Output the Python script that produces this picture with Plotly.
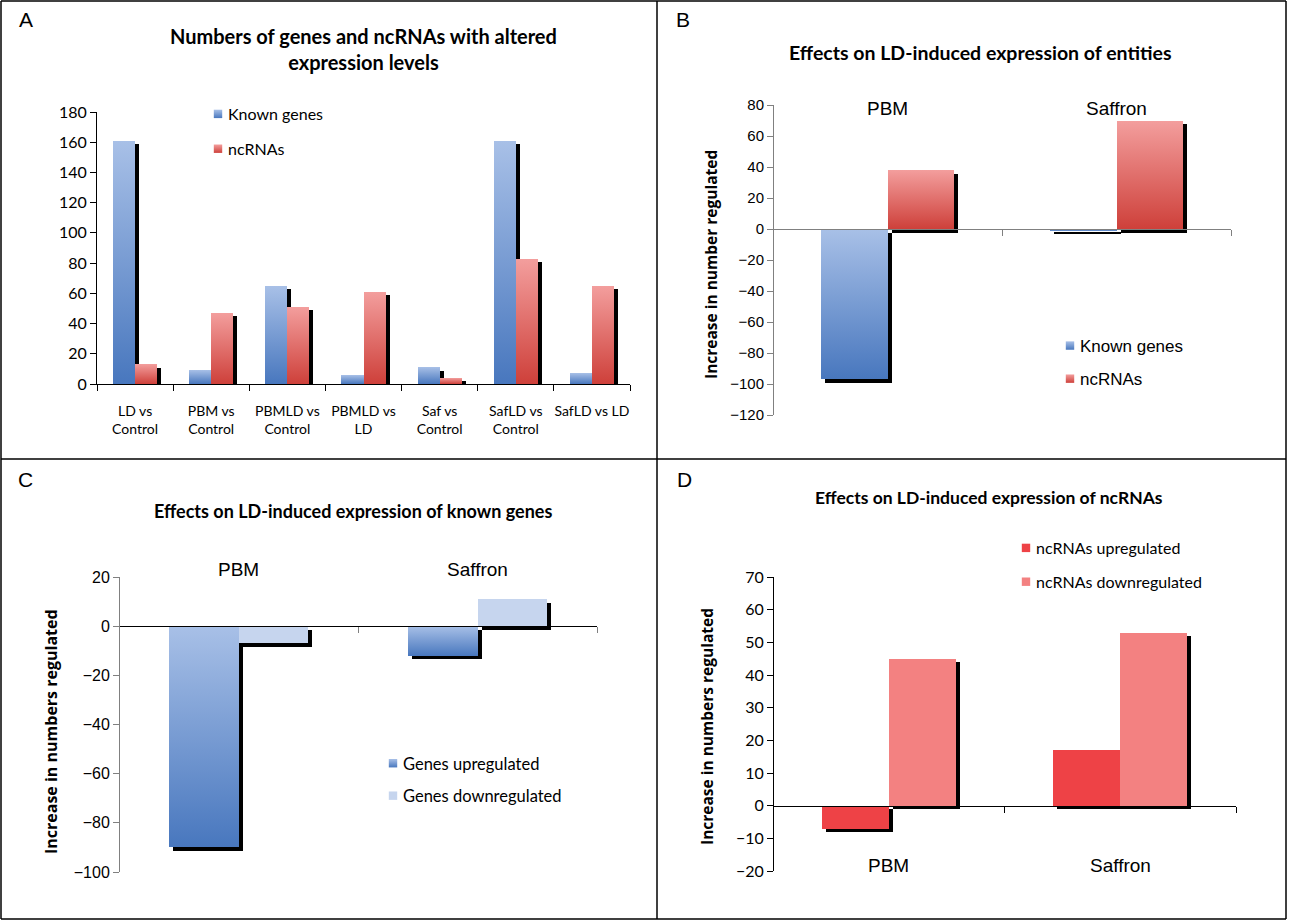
import plotly.graph_objects as go

W, H = 1290, 922

# ---------------- data ----------------
a_categories = ["LD vs<br>Control", "PBM vs<br>Control", "PBMLD vs<br>Control", "PBMLD vs<br>LD",
                "Saf vs<br>Control", "SafLD vs<br>Control", "SafLD vs LD"]
a_known = [161, 9, 65, 6, 11, 161, 7]
a_ncrna = [13, 47, 51, 61, 4, 83, 65]
a_ticks = [0, 20, 40, 60, 80, 100, 120, 140, 160, 180]

b_categories = ["PBM", "Saffron"]
b_known = [-97, -1]
b_ncrna = [38, 70]
b_ticks = [-120, -100, -80, -60, -40, -20, 0, 20, 40, 60, 80]

c_categories = ["PBM", "Saffron"]
c_up = [-90, -12]
c_down = [-7, 11]
c_ticks = [-100, -80, -60, -40, -20, 0, 20]

d_categories = ["PBM", "Saffron"]
d_up = [-7, 17]
d_down = [45, 53]
d_ticks = [-20, -10, 0, 10, 20, 30, 40, 50, 60, 70]

# ---------------- styling ----------------
BLUE = "#7B9DD4"
RED = "#E37372"
LIGHTBLUE = "#C6D5EE"
UPRED = "#EE4246"
DOWNRED = "#F38181"
CAL = "Lato"
ARI = "Liberation Sans"

# panel geometry in pixels: (left, right, top, bottom, ymin, ymax)
panels = {
    "A": (97, 630, 112, 384, 0, 180),
    "B": (773, 1231, 105, 415, -120, 80),
    "C": (119, 597, 577, 872, -100, 20),
    "D": (773, 1236, 577, 871, -20, 70),
}
BW = 0.29  # bar width (category units)

fig = go.Figure()


def add_pair(axn, key, cats, v1, v2, c1, c2, n1, n2, legend):
    l, r, t, b, y0, y1 = panels[key]
    ncat = len(cats)
    catpx = (r - l) / ncat
    pxu = (b - t) / (y1 - y0)
    dx = 4.0 / catpx
    dy = 3.5 / pxu
    xa = "x" if axn == 1 else f"x{axn}"
    ya = "y" if axn == 1 else f"y{axn}"
    for vals, off in ((v1, -BW), (v2, 0.0)):
        fig.add_trace(go.Bar(x=cats, y=vals, base=-dy, offset=off + dx, width=BW,
                             marker=dict(color="black", line=dict(width=0)),
                             showlegend=False, hoverinfo="skip", xaxis=xa, yaxis=ya))
    fig.add_trace(go.Bar(x=cats, y=v1, offset=-BW, width=BW, name=n1,
                         marker=dict(color=c1, line=dict(width=0)), legend=legend,
                         legendgroup=key + "1", xaxis=xa, yaxis=ya))
    fig.add_trace(go.Bar(x=cats, y=v2, offset=0.0, width=BW, name=n2,
                         marker=dict(color=c2, line=dict(width=0)), legend=legend,
                         legendgroup=key + "2", xaxis=xa, yaxis=ya))


add_pair(1, "A", a_categories, a_known, a_ncrna, BLUE, RED, "Known genes", "ncRNAs", "legend")
add_pair(2, "B", b_categories, b_known, b_ncrna, BLUE, RED, "Known genes", "ncRNAs", "legend2")
add_pair(3, "C", c_categories, c_up, c_down, BLUE, LIGHTBLUE, "Genes upregulated", "Genes downregulated", "legend3")
add_pair(4, "D", d_categories, d_up, d_down, UPRED, DOWNRED, "ncRNAs upregulated", "ncRNAs downregulated", "legend4")


def xdom(key):
    l, r = panels[key][0], panels[key][1]
    return [l / W, r / W]


def ydom(key):
    t, b = panels[key][2], panels[key][3]
    return [1 - b / H, 1 - t / H]


def zero_pos(key):
    l, r, t, b, y0, y1 = panels[key]
    d = ydom(key)
    return d[0] + (0 - y0) / (y1 - y0) * (d[1] - d[0])


common_x = dict(type="category", showgrid=False, zeroline=False, ticks="outside",
                tickson="boundaries", ticklen=6, showline=True, linewidth=1, automargin=False)
common_y = dict(showgrid=False, zeroline=False, ticks="outside", ticklen=6,
                showline=True, linewidth=1, automargin=False)

layout = dict(
    width=W, height=H, margin=dict(l=0, r=0, t=0, b=0, pad=0), autosize=False,
    paper_bgcolor="white", plot_bgcolor="white", barmode="overlay", bargap=0,
    xaxis=dict(domain=xdom("A"), anchor="y", linecolor="black", tickcolor="black",
               tickfont=dict(family=CAL, size=14, color="black"), ticklabelstandoff=14,
               tickangle=0, range=[-0.5, 6.5], **common_x),
    yaxis=dict(domain=ydom("A"), anchor="x", range=[0, 180], tickvals=a_ticks,
               linecolor="black", tickcolor="black",
               tickfont=dict(family=CAL, size=16, color="black"), **common_y),
    xaxis2=dict(domain=xdom("B"), anchor="free", position=zero_pos("B"), linecolor="#808080",
                tickcolor="#808080", showticklabels=False, range=[-0.5, 1.5], **common_x),
    yaxis2=dict(domain=ydom("B"), anchor="free", position=xdom("B")[0], range=[-120, 80],
                tickvals=b_ticks, linecolor="#808080", tickcolor="#808080",
                tickfont=dict(family=ARI, size=15, color="black"), **common_y),
    xaxis3=dict(domain=xdom("C"), anchor="free", position=zero_pos("C"), linecolor="black",
                tickcolor="#808080", showticklabels=False, range=[-0.5, 1.5], **common_x),
    yaxis3=dict(domain=ydom("C"), anchor="free", position=xdom("C")[0], range=[-100, 20],
                tickvals=c_ticks, linecolor="#808080", tickcolor="#808080",
                tickfont=dict(family=ARI, size=16, color="black"), **common_y),
    xaxis4=dict(domain=xdom("D"), anchor="free", position=zero_pos("D"), linecolor="black",
                tickcolor="black", showticklabels=False, range=[-0.5, 1.5], **common_x),
    yaxis4=dict(domain=ydom("D"), anchor="free", position=xdom("D")[0], range=[-20, 70],
                tickvals=d_ticks, linecolor="black", tickcolor="black",
                tickfont=dict(family=CAL, size=16, color="black"), **common_y),
)

legend_common = dict(xanchor="left", yanchor="top", bgcolor="rgba(0,0,0,0)",
                     itemclick=False, itemdoubleclick=False)
layout["legend"] = dict(x=(230 - 42) / W, y=1 - 97 / H, tracegroupgap=11,
                        font=dict(family=CAL, size=16, color="black"), **legend_common)
layout["legend2"] = dict(x=(1082 - 42) / W, y=1 - 328 / H, tracegroupgap=8,
                         font=dict(family=ARI, size=17, color="black"), **legend_common)
layout["legend3"] = dict(x=(405 - 42) / W, y=1 - 746 / H, tracegroupgap=8,
                         font=dict(family=CAL, size=16.5, color="black"), **legend_common)
layout["legend4"] = dict(x=(1038 - 42) / W, y=1 - 531 / H, tracegroupgap=10,
                         font=dict(family=CAL, size=16, color="black"), **legend_common)

fig.update_layout(**layout)

ann = []
# panel letters
for letter, (px, py) in {"A": (26, 20), "B": (683, 20), "C": (25, 479), "D": (684, 479)}.items():
    ann.append(dict(text=letter, x=px / W, y=1 - py / H, xref="paper", yref="paper",
                    showarrow=False, xanchor="center", yanchor="middle",
                    font=dict(family=ARI, size=21, color="black")))
# titles
titles = [
    ("Numbers of genes and ncRNAs with altered<br>expression levels", 363, 49, 20),
    ("Effects on LD-induced expression of entities", 980, 52, 19.5),
    ("Effects on LD-induced expression of known genes", 353, 511, 18),
    ("Effects on LD-induced expression of ncRNAs", 989, 498, 17.5),
]
for txt, px, py, fs in titles:
    ann.append(dict(text=txt, x=px / W, y=1 - py / H, xref="paper", yref="paper",
                    showarrow=False, xanchor="center", yanchor="middle",
                    font=dict(family=CAL, size=fs, color="black", weight="bold")))
# y-axis titles
for txt, px, py, fs in [("Increase in number regulated", 711, 265, 15.5),
                        ("Increase in numbers regulated", 51, 732, 16),
                        ("Increase in numbers regulated", 707, 727, 15.5)]:
    ann.append(dict(text=txt, x=px / W, y=1 - py / H, xref="paper", yref="paper",
                    showarrow=False, xanchor="center", yanchor="middle", textangle=-90,
                    font=dict(family="Open Sans", size=fs, color="black", weight="bold")))
# category labels for B, C, D
for cats, xa, py in [(b_categories, "x2", 108), (c_categories, "x3", 569), (d_categories, "x4", 865)]:
    for c in cats:
        ann.append(dict(text=c, x=c, xref=xa, y=1 - py / H, yref="paper", showarrow=False,
                        xanchor="center", yanchor="middle",
                        font=dict(family=ARI, size=19, color="black")))
fig.update_layout(annotations=ann)

# panel borders
shapes = []
lw = 1.5
for x0, y0, x1, y1 in [(1, 1, 1286, 1), (1, 919, 1286, 919), (1, 1, 1, 919), (1286, 1, 1286, 919),
                       (657, 1, 657, 919), (1, 459, 1286, 459)]:
    shapes.append(dict(type="line", xref="paper", yref="paper", x0=x0 / W, x1=x1 / W,
                       y0=1 - y0 / H, y1=1 - y1 / H, line=dict(color="black", width=lw)))
fig.update_layout(shapes=shapes)

# Excel-like vertical gradient fills for the gradient-styled bars + small legend keys
post_js = """
document.body.style.margin='0';document.body.style.overflow='hidden';
var ns='http://www.w3.org/2000/svg';
var svg=document.querySelector('.main-svg');
var defs=document.createElementNS(ns,'defs');
svg.insertBefore(defs, svg.firstChild);
function mk(id,c1,c2){
  var g=document.createElementNS(ns,'linearGradient');
  g.setAttribute('id',id);g.setAttribute('x1','0');g.setAttribute('y1','0');
  g.setAttribute('x2','0');g.setAttribute('y2','1');
  [['0',c1],['1',c2]].forEach(function(s){var st=document.createElementNS(ns,'stop');
    st.setAttribute('offset',s[0]);st.setAttribute('stop-color',s[1]);g.appendChild(st);});
  defs.appendChild(g);
}
mk('gradBlue','#A8C0E7','#4877BE');
mk('gradRed','#F39E9D','#CE403A');
document.querySelectorAll('path').forEach(function(p){
  var f=p.style.fill;
  if(f==='rgb(123, 157, 212)'){p.style.fill='url(#gradBlue)';}
  else if(f==='rgb(227, 115, 114)'){p.style.fill='url(#gradRed)';}
});
document.querySelectorAll('.legendpoints path').forEach(function(p){
  p.setAttribute('transform','translate(30,0) scale(0.7)');
});
"""

fig.write_html("out.html", config={"displayModeBar": False}, post_script=post_js)
